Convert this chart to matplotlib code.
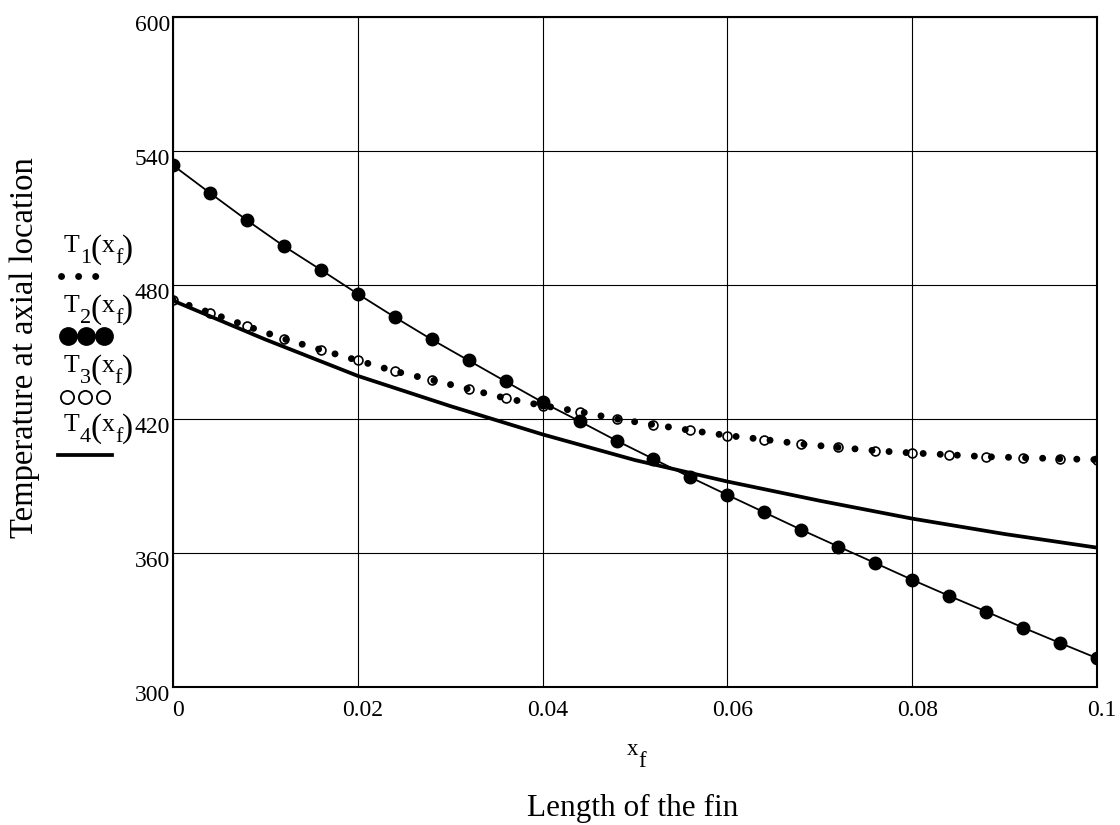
import numpy as np
import matplotlib
matplotlib.use("Agg")
import matplotlib.pyplot as plt
from matplotlib.lines import Line2D
from matplotlib.transforms import ScaledTranslation

plt.rcParams['font.family'] = ['Liberation Serif', 'DejaVu Serif']

# fin position (m), sampled every 0.004
x_f = np.round(np.arange(26) * 0.004, 3)

# values
temp_t1 = [473.4, 467.6, 461.6, 455.9, 451.0, 446.2, 441.4, 437.5, 433.4, 429.3,
           426.0, 423.3, 420.0, 417.5, 414.9, 412.6, 410.8, 408.8, 407.3, 405.8,
           404.8, 404.0, 403.1, 402.7, 402.2, 401.8]
temp_t2 = [533.6, 521.2, 509.0, 497.4, 486.8, 476.0, 465.6, 455.6, 446.2, 436.8,
           427.5, 419.0, 410.3, 402.1, 393.9, 386.0, 378.2, 370.4, 362.9, 355.5,
           348.0, 340.8, 333.8, 326.6, 319.7, 312.9]
temp_t3 = [473.4, 467.6, 461.6, 455.9, 451.0, 446.2, 441.4, 437.5, 433.4, 429.3,
           426.0, 423.3, 420.0, 417.5, 414.9, 412.6, 410.8, 408.8, 407.3, 405.8,
           404.8, 404.0, 403.1, 402.7, 402.2, 401.8]
x_t4 = [0, 0.01, 0.02, 0.03, 0.04, 0.05, 0.06, 0.07, 0.08, 0.09, 0.1]
temp_t4 = [473.0, 455.6, 439.3, 425.8, 413.1, 401.6, 392.0, 383.4, 375.4, 368.5, 362.4]

xticks = [0, 0.02, 0.04, 0.06, 0.08, 0.1]
xtick_labels = ['0', '0.02', '0.04', '0.06', '0.08', '0.1']
yticks = [300, 360, 420, 480, 540, 600]
series_idx = ['1', '2', '3', '4']

W, H = 1120, 825
fig = plt.figure(figsize=(W / 100, H / 100), dpi=100)
ax = fig.add_axes([173 / W, 1 - 687 / H, (1097 - 173) / W, (687 - 17) / H])
renderer = fig.canvas.get_renderer()


def chain(x0, y0, parts):
    # Mathcad-like text: pieces of (text, fontsize, drop in px) laid left to right
    x = x0
    for s, size, dy in parts:
        t = fig.text(x / W, 1 - (y0 + dy) / H, s, fontsize=size, ha='left', va='baseline')
        x += t.get_window_extent(renderer).width


dot_style = dict(color='k', lw=5.0, linestyle=(0, (0.01, 2.45)), dash_capstyle='round')
ax.plot(x_f, temp_t1, zorder=3, **dot_style)
ax.plot(x_f, temp_t2, color='k', lw=1.3, marker='o', ms=9, mfc='k', mec='k', zorder=4)
ax.plot(x_f, temp_t3, ls='none', marker='o', ms=6.4, mfc='none', mec='k', mew=1.2, zorder=5)
ax.plot(x_t4, temp_t4, color='k', lw=2.7, zorder=4)

ax.set_xlim(0, 0.1)
ax.set_ylim(300, 600)
ax.set_xticks(xticks)
ax.set_xticklabels(xtick_labels)
ax.set_yticks(yticks)
ax.grid(True, color='k', lw=0.8)
ax.set_axisbelow(True)
ax.tick_params(length=0, labelsize=17)
ax.tick_params(axis='x', pad=9)
ax.tick_params(axis='y', pad=2)
for sp in ax.spines.values():
    sp.set_linewidth(1.5)
for lab in ax.get_xticklabels():
    lab.set_transform(lab.get_transform() + ScaledTranslation(5 / 100, 0, fig.dpi_scale_trans))
for lab in ax.get_yticklabels():
    lab.set_transform(lab.get_transform() + ScaledTranslation(0, -6 / 100, fig.dpi_scale_trans))

# axis titles
chain(627, 755, [('x', 16.5, 0), ('f', 16.5, 12)])
fig.text(633 / W, 1 - 808 / H, 'Length of the fin', fontsize=22.5, ha='center', va='center')
fig.text(25 / W, 1 - 348 / H, 'Temperature at axial location', fontsize=23.5,
         rotation=90, ha='center', va='center')

# Mathcad-style legend: label above its trace sample
for idx, base in zip(series_idx, [252, 312, 372, 431]):
    chain(64, base, [('T', 18.5, 0), (idx, 16, 11), ('(', 24, 6),
                     ('x', 18.5, 0), ('f', 16, 11), (')', 24, 6)])

fig.add_artist(Line2D([61 / W, 96 / W], [1 - 276 / H] * 2, transform=fig.transFigure, **dot_style))
fig.add_artist(Line2D([68 / W, 86 / W, 104 / W], [1 - 336 / H] * 3, transform=fig.transFigure,
                      ls='none', marker='o', ms=12.5, mfc='k', mec='k'))
fig.add_artist(Line2D([67 / W, 85 / W, 103 / W], [1 - 397 / H] * 3, transform=fig.transFigure,
                      ls='none', marker='o', ms=9.5, mfc='none', mec='k', mew=1.3))
fig.add_artist(Line2D([58 / W, 112 / W], [1 - 455 / H] * 2, transform=fig.transFigure,
                      color='k', lw=2.7))

fig.savefig('out.png', dpi=100)
